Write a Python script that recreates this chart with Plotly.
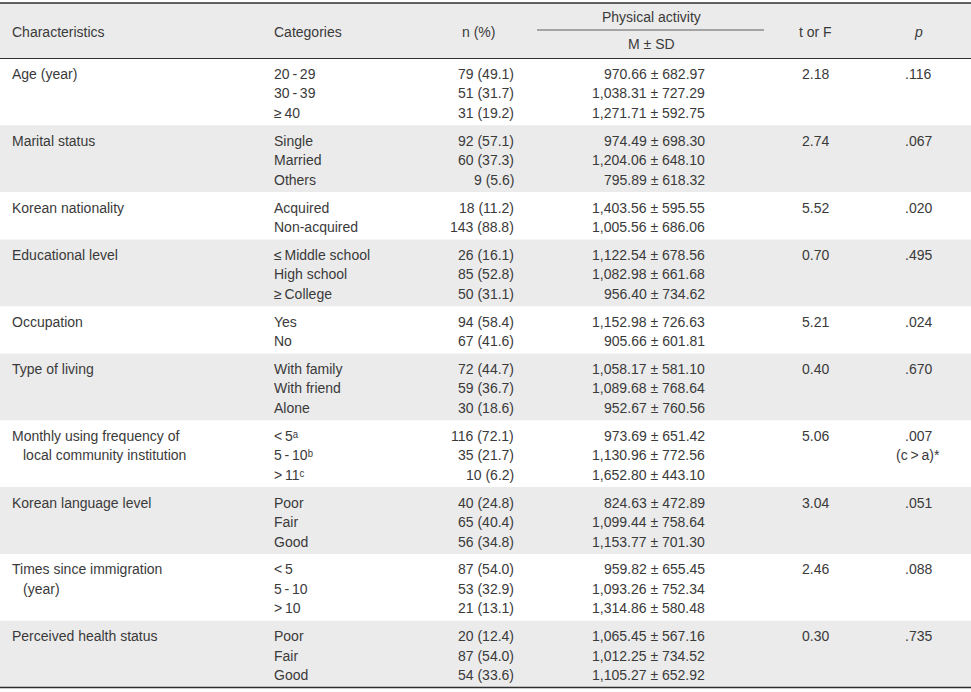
import re
import plotly.graph_objects as go

# ---------------- data ----------------
characteristics = [
    ["Age (year)"],
    ["Marital status"],
    ["Korean nationality"],
    ["Educational level"],
    ["Occupation"],
    ["Type of living"],
    ["Monthly using frequency of", "local community institution"],
    ["Korean language level"],
    ["Times since immigration", "(year)"],
    ["Perceived health status"],
]
categories = [
    ["20\u2009-\u200929", "30\u2009-\u200939", "≥\u200940"],
    ["Single", "Married", "Others"],
    ["Acquired", "Non-acquired"],
    ["≤\u2009Middle school", "High school", "≥\u2009College"],
    ["Yes", "No"],
    ["With family", "With friend", "Alone"],
    ["<\u20095\u1d43", "5\u2009-\u200910\u1d47", ">\u200911\u1d9c"],
    ["Poor", "Fair", "Good"],
    ["<\u20095", "5\u2009-\u200910", ">\u200910"],
    ["Poor", "Fair", "Good"],
]
n_percent = [
    ["79 (49.1)", "51 (31.7)", "31 (19.2)"],
    ["92 (57.1)", "60 (37.3)", "9 (5.6)"],
    ["18 (11.2)", "143 (88.8)"],
    ["26 (16.1)", "85 (52.8)", "50 (31.1)"],
    ["94 (58.4)", "67 (41.6)"],
    ["72 (44.7)", "59 (36.7)", "30 (18.6)"],
    ["116 (72.1)", "35 (21.7)", "10 (6.2)"],
    ["40 (24.8)", "65 (40.4)", "56 (34.8)"],
    ["87 (54.0)", "53 (32.9)", "21 (13.1)"],
    ["20 (12.4)", "87 (54.0)", "54 (33.6)"],
]
pa_mean_sd = [
    ["970.66 ± 682.97", "1,038.31 ± 727.29", "1,271.71 ± 592.75"],
    ["974.49 ± 698.30", "1,204.06 ± 648.10", "795.89 ± 618.32"],
    ["1,403.56 ± 595.55", "1,005.56 ± 686.06"],
    ["1,122.54 ± 678.56", "1,082.98 ± 661.68", "956.40 ± 734.62"],
    ["1,152.98 ± 726.63", "905.66 ± 601.81"],
    ["1,058.17 ± 581.10", "1,089.68 ± 768.64", "952.67 ± 760.56"],
    ["973.69 ± 651.42", "1,130.96 ± 772.56", "1,652.80 ± 443.10"],
    ["824.63 ± 472.89", "1,099.44 ± 758.64", "1,153.77 ± 701.30"],
    ["959.82 ± 655.45", "1,093.26 ± 752.34", "1,314.86 ± 580.48"],
    ["1,065.45 ± 567.16", "1,012.25 ± 734.52", "1,105.27 ± 652.92"],
]
t_or_f = ["2.18", "2.74", "5.52", "0.70", "5.21", "0.40", "5.06", "3.04", "2.46", "0.30"]
p_values = [
    [".116"], [".067"], [".020"], [".495"], [".024"], [".670"],
    [".007", "(c\u2009>\u2009a)*"], [".051"], [".088"], [".735"],
]
header_labels = ["Characteristics", "Categories", "n (%)", "Physical activity",
                 "M ± SD", "t or F", "<i>p</i>"]

# ---------------- style ----------------
W, H = 971, 692
FONT = "Liberation Sans, Arial, sans-serif"
FS = 14
TXT = "#3a3a3a"
GRAY = "#ebebeb"
TOP, HEAD_BOT = 3, 58.5
PAD, LINE = 13.9, 19.5
DY = 1.5  # visual centering nudge for text

X_CHAR, X_CHAR2, X_CAT = 10, 21, 272
X_N, X_PA, X_T, X_P = 516, 707, 815, 918
X_N_HEAD, X_PA_HEAD = 478, 651


def esc(s):
    return re.sub(r'<(?=[\d\s\u2009])', '&lt;', s)


fig = go.Figure()
shapes, annos = [], []


def add_text(x, y, text, anchor):
    annos.append(dict(x=x, y=y + DY, xref="x", yref="y", text=esc(text), showarrow=False,
                      xanchor=anchor, yanchor="middle",
                      font=dict(family=FONT, size=FS, color=TXT)))


# header background
shapes.append(dict(type="rect", xref="x", yref="y", x0=0, x1=W, y0=TOP, y1=HEAD_BOT,
                   fillcolor=GRAY, line_width=0, layer="below"))

# body rows
y0 = HEAD_BOT
for i, cats in enumerate(categories):
    n = len(cats)
    h = 2 * PAD + (n - 1) * LINE
    if i % 2 == 1:
        shapes.append(dict(type="rect", xref="x", yref="y", x0=0, x1=W, y0=y0, y1=y0 + h,
                           fillcolor=GRAY, line_width=0, layer="below"))
    ys = [y0 + PAD + k * LINE for k in range(n)]
    for k, line in enumerate(characteristics[i]):
        add_text(X_CHAR if k == 0 else X_CHAR2, ys[k], line, "left")
    for k in range(n):
        add_text(X_CAT, ys[k], cats[k], "left")
        add_text(X_N, ys[k], n_percent[i][k], "right")
        add_text(X_PA, ys[k], pa_mean_sd[i][k], "right")
    add_text(X_T, ys[0], t_or_f[i], "center")
    for k, pv in enumerate(p_values[i]):
        add_text(X_P, ys[k], pv, "center")
    y0 += h
BOTTOM = y0

# header text
hmid = (TOP + HEAD_BOT) / 2
add_text(X_CHAR, hmid, header_labels[0], "left")
add_text(X_CAT, hmid, header_labels[1], "left")
add_text(X_N_HEAD, hmid, header_labels[2], "center")
add_text(X_PA_HEAD, 15.5, header_labels[3], "center")
add_text(X_PA_HEAD, 42.5, header_labels[4], "center")
add_text(X_T, hmid, header_labels[5], "center")
add_text(X_P, hmid, header_labels[6], "center")

# rules
shapes.append(dict(type="line", xref="x", yref="y", x0=0, x1=W, y0=TOP, y1=TOP,
                   line=dict(color="#2e2e2e", width=1.3)))
shapes.append(dict(type="line", xref="x", yref="y", x0=0, x1=W, y0=HEAD_BOT, y1=HEAD_BOT,
                   line=dict(color="#2e2e2e", width=1.2)))
shapes.append(dict(type="line", xref="x", yref="y", x0=537, x1=764, y0=30, y1=30,
                   line=dict(color="#8c8c8c", width=1.6)))
shapes.append(dict(type="line", xref="x", yref="y", x0=0, x1=W, y0=BOTTOM, y1=BOTTOM,
                   line=dict(color="#2e2e2e", width=1.6)))

fig.update_layout(
    width=W, height=H,
    margin=dict(l=0, r=0, t=0, b=0),
    paper_bgcolor="white", plot_bgcolor="white",
    xaxis=dict(range=[0, W], visible=False, fixedrange=True),
    yaxis=dict(range=[H, 0], visible=False, fixedrange=True),
    shapes=shapes, annotations=annos, showlegend=False,
)
fig.write_html("out.html", post_script="document.body.style.margin='0';",
               config={"displayModeBar": False})
